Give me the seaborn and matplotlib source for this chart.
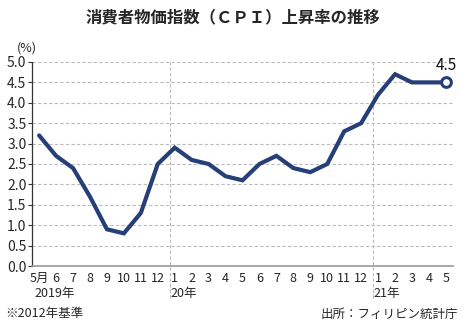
import matplotlib
matplotlib.use("Agg")
import matplotlib.pyplot as plt
import seaborn as sns
import pandas as pd
import numpy as np

# Monthly CPI inflation (%), May 2019 - May 2021
months = ["5月", "6", "7", "8", "9", "10", "11", "12",
          "1", "2", "3", "4", "5", "6", "7", "8", "9", "10", "11", "12",
          "1", "2", "3", "4", "5"]
cpi = [3.2, 2.7, 2.4, 1.7, 0.9, 0.8, 1.3, 2.5,
       2.9, 2.6, 2.5, 2.2, 2.1, 2.5, 2.7, 2.4, 2.3, 2.5, 3.3, 3.5,
       4.2, 4.7, 4.5, 4.5, 4.5]
year_labels = ["2019年", "20年", "21年"]
year_start_idx = [0, 8, 20]
y_ticks = [0.0, 0.5, 1.0, 1.5, 2.0, 2.5, 3.0, 3.5, 4.0, 4.5, 5.0]

title = "消費者物価指数（ＣＰＩ）上昇率の推移"
note_left = "※2012年基準"
note_right = "出所：フィリピン統計庁"

df = pd.DataFrame({"idx": np.arange(len(cpi)), "cpi": cpi})

sns.set_style("white")
plt.rcParams["font.family"] = ["Noto Sans CJK JP", "DejaVu Sans"]

navy = "#263f78"
fig = plt.figure(figsize=(4.65, 3.26), dpi=100)
ax = fig.add_axes([32 / 465, 1 - 266 / 326, (453 - 32) / 465, (266 - 62) / 326])

sns.lineplot(data=df, x="idx", y="cpi", ax=ax, color=navy, linewidth=3.0,
             solid_joinstyle="miter", zorder=3)
ax.plot(df["idx"].iloc[-1], df["cpi"].iloc[-1], marker="o", markersize=7,
        markerfacecolor="white", markeredgecolor=navy, markeredgewidth=2.2,
        zorder=4)
ax.annotate(f"{cpi[-1]:.1f}", (df["idx"].iloc[-1], cpi[-1]),
            xytext=(0, 6), textcoords="offset points", ha="center",
            va="bottom", fontsize=11, color="#111111")

ax.set_xlim(-0.42, len(cpi) - 1 + 0.42)
ax.set_ylim(0, 5.0)
ax.set_yticks(y_ticks)
ax.set_yticklabels([f"{v:.1f}" for v in y_ticks], fontsize=10)
ax.yaxis.grid(True, linestyle=(0, (3, 2)), color="#bbbbbb", linewidth=0.8)
for i in year_start_idx[1:]:
    ax.axvline(i - 0.3, color="#bbbbbb", linestyle=(0, (3, 2)), linewidth=0.8,
               ymin=-0.155, clip_on=False, zorder=1)

ax.set_xticks(df["idx"])
ax.set_xticklabels(months, fontsize=9)
ax.tick_params(axis="x", length=0, pad=4.5)
ax.tick_params(axis="y", length=3, width=0.8, pad=1, color="#333333", left=True)
ax.set_xlabel("")
ax.set_ylabel("")

for s in ["top", "right"]:
    ax.spines[s].set_visible(False)
ax.spines["left"].set_color("#333333")
ax.spines["left"].set_linewidth(0.9)
ax.spines["bottom"].set_color("#999999")
ax.spines["bottom"].set_linewidth(1.2)

for lbl, i in zip(year_labels, year_start_idx):
    ax.annotate(lbl, (i - 0.25, 0), xycoords=("data", "axes fraction"),
                xytext=(0, -15), textcoords="offset points", ha="left",
                va="top", fontsize=9)

ax.text(-0.035, 1.035, "(%)", transform=ax.transAxes, fontsize=9,
        ha="left", va="bottom")

fig.text(0.5, 1 - 17 / 326, title, ha="center", va="center",
         fontsize=11.8, fontweight="bold")
fig.text(5 / 465, 1 - 314 / 326, note_left, ha="left", va="center", fontsize=9)
fig.text(458 / 465, 1 - 314 / 326, note_right, ha="right", va="center",
         fontsize=9)

fig.savefig("out.png", dpi=100)
